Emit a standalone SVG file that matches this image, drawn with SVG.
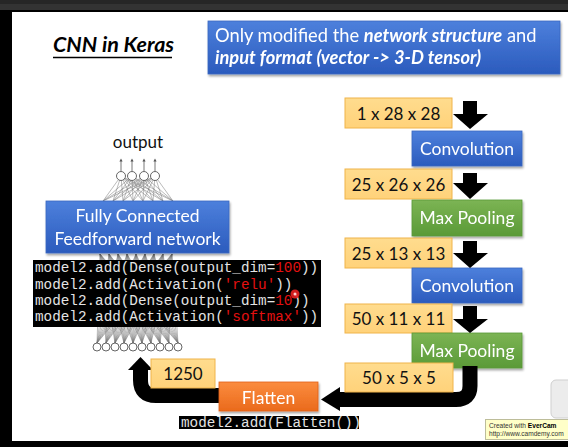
<svg xmlns="http://www.w3.org/2000/svg" width="568" height="447" viewBox="0 0 568 447">
<defs>
<linearGradient id="gBlue" x1="0" y1="0" x2="0" y2="1"><stop offset="0" stop-color="#4d80dc"/><stop offset="1" stop-color="#2b5bbd"/></linearGradient>
<linearGradient id="gGreen" x1="0" y1="0" x2="0" y2="1"><stop offset="0" stop-color="#7cb454"/><stop offset="1" stop-color="#5a9a37"/></linearGradient>
<linearGradient id="gOrange" x1="0" y1="0" x2="0" y2="1"><stop offset="0" stop-color="#fb8c3e"/><stop offset="1" stop-color="#ea6a1c"/></linearGradient>
<linearGradient id="gTan" x1="0" y1="0" x2="0" y2="1"><stop offset="0" stop-color="#ffdc8e"/><stop offset="1" stop-color="#ffd27a"/></linearGradient>
<filter id="sh" x="-10%" y="-10%" width="130%" height="140%"><feDropShadow dx="1" dy="2" stdDeviation="1.2" flood-color="#000" flood-opacity="0.35"/></filter>
<marker id="ah" viewBox="0 0 6 6" refX="3" refY="3" markerWidth="4" markerHeight="4" orient="auto"><path d="M0,0 L6,3 L0,6 z" fill="#555"/></marker>
</defs>
<style>
.t{font-family:Lato,"Liberation Sans",sans-serif}
.w{fill:#fff}
.box{filter:url(#sh)}
.tan{fill:url(#gTan);stroke:#f0b44a;stroke-width:1}
.lbl{font-family:Lato,"Liberation Sans",sans-serif;font-size:17px;fill:#111;text-anchor:middle}
.node{font-family:Lato,"Liberation Sans",sans-serif;font-size:17.5px;fill:#fff;text-anchor:middle}
.code{font-family:"Liberation Mono",monospace;font-size:14.3px;fill:#e4e4e4}
.red{fill:#e41010}
.nn{stroke:#777;stroke-width:0.5;fill:none}
.cir{fill:#fff;stroke:#555;stroke-width:0.9}
.arr{fill:#000}
.tip{font-family:"Liberation Sans",sans-serif;font-size:6.6px;fill:#333}
</style>
<!-- screen frame -->
<rect x="0" y="0" width="568" height="447" fill="#fff"/>
<rect x="0" y="0" width="568" height="4" fill="#262626"/>
<rect x="0" y="4" width="568" height="6" fill="#333"/>
<rect x="0" y="10" width="568" height="2" fill="#000"/>
<rect x="0" y="10" width="12" height="437" fill="#000"/>
<rect x="0" y="441" width="568" height="6" fill="#000"/>

<!-- title -->
<g id="title">
<text x="53" y="52" class="t" font-size="21.5" font-weight="bold" font-style="italic" fill="#000">CNN in Keras</text>
<line x1="53" y1="57.5" x2="172" y2="57.5" stroke="#000" stroke-width="1.5"/>
</g>

<g id="note" class="box">
<rect x="208" y="21" width="352" height="53" fill="url(#gBlue)" stroke="#3a66c0" stroke-width="0.8"/>
<text x="215" y="42" class="t w" font-size="18.3">Only modified the <tspan font-weight="bold" font-style="italic">network structure</tspan> and</text>
<text x="215" y="64" class="t w" font-size="18.3" font-weight="bold" font-style="italic">input format (vector -&gt; 3-D tensor)</text>
</g>

<!-- neural network drawing -->
<g id="nn-top">
<g class="nn">
<path d="M121,176 L103,201 M121,176 L113,201 M121,176 L123,201 M121,176 L133,201 M121,176 L143,201 M121,176 L153,201 M121,176 L163,201 M121,176 L173,201"/>
<path d="M132,176 L103,201 M132,176 L113,201 M132,176 L123,201 M132,176 L133,201 M132,176 L143,201 M132,176 L153,201 M132,176 L163,201 M132,176 L173,201"/>
<path d="M144,176 L103,201 M144,176 L113,201 M144,176 L123,201 M144,176 L133,201 M144,176 L143,201 M144,176 L153,201 M144,176 L163,201 M144,176 L173,201"/>
<path d="M155,176 L103,201 M155,176 L113,201 M155,176 L123,201 M155,176 L133,201 M155,176 L143,201 M155,176 L153,201 M155,176 L163,201 M155,176 L173,201"/>
</g>
<g stroke="#555" stroke-width="0.8">
<line x1="121" y1="171" x2="121" y2="160" marker-end="url(#ah)"/>
<line x1="132" y1="171" x2="132" y2="160" marker-end="url(#ah)"/>
<line x1="144" y1="171" x2="144" y2="160" marker-end="url(#ah)"/>
<line x1="155" y1="171" x2="155" y2="160" marker-end="url(#ah)"/>
</g>
<circle cx="121" cy="176" r="4.5" class="cir"/>
<circle cx="132" cy="176" r="4.5" class="cir"/>
<circle cx="144" cy="176" r="4.5" class="cir"/>
<circle cx="155" cy="176" r="4.5" class="cir"/>
<text x="138" y="148" class="lbl">output</text>
</g>

<g id="nn-bottom">
<g class="nn">
<path d="M100,254 L97,343 M100,254 L106,343 M100,254 L115,343 M100,254 L124,343 M100,254 L133,343 M100,254 L142,343 M100,254 L151,343 M100,254 L160,343 M100,254 L169,343 M100,254 L178,343"/>
<path d="M109,254 L97,343 M109,254 L106,343 M109,254 L115,343 M109,254 L124,343 M109,254 L133,343 M109,254 L142,343 M109,254 L151,343 M109,254 L160,343 M109,254 L169,343 M109,254 L178,343"/>
<path d="M118,254 L97,343 M118,254 L106,343 M118,254 L115,343 M118,254 L124,343 M118,254 L133,343 M118,254 L142,343 M118,254 L151,343 M118,254 L160,343 M118,254 L169,343 M118,254 L178,343"/>
<path d="M127,254 L97,343 M127,254 L106,343 M127,254 L115,343 M127,254 L124,343 M127,254 L133,343 M127,254 L142,343 M127,254 L151,343 M127,254 L160,343 M127,254 L169,343 M127,254 L178,343"/>
<path d="M136,254 L97,343 M136,254 L106,343 M136,254 L115,343 M136,254 L124,343 M136,254 L133,343 M136,254 L142,343 M136,254 L151,343 M136,254 L160,343 M136,254 L169,343 M136,254 L178,343"/>
<path d="M145,254 L97,343 M145,254 L106,343 M145,254 L115,343 M145,254 L124,343 M145,254 L133,343 M145,254 L142,343 M145,254 L151,343 M145,254 L160,343 M145,254 L169,343 M145,254 L178,343"/>
<path d="M154,254 L97,343 M154,254 L106,343 M154,254 L115,343 M154,254 L124,343 M154,254 L133,343 M154,254 L142,343 M154,254 L151,343 M154,254 L160,343 M154,254 L169,343 M154,254 L178,343"/>
<path d="M163,254 L97,343 M163,254 L106,343 M163,254 L115,343 M163,254 L124,343 M163,254 L133,343 M163,254 L142,343 M163,254 L151,343 M163,254 L160,343 M163,254 L169,343 M163,254 L178,343"/>
<path d="M172,254 L97,343 M172,254 L106,343 M172,254 L115,343 M172,254 L124,343 M172,254 L133,343 M172,254 L142,343 M172,254 L151,343 M172,254 L160,343 M172,254 L169,343 M172,254 L178,343"/>
</g>
<circle cx="97" cy="347" r="4" class="cir"/>
<circle cx="106" cy="347" r="4" class="cir"/>
<circle cx="115" cy="347" r="4" class="cir"/>
<circle cx="124" cy="347" r="4" class="cir"/>
<circle cx="133" cy="347" r="4" class="cir"/>
<circle cx="142" cy="347" r="4" class="cir"/>
<circle cx="151" cy="347" r="4" class="cir"/>
<circle cx="160" cy="347" r="4" class="cir"/>
<circle cx="169" cy="347" r="4" class="cir"/>
<circle cx="178" cy="347" r="4" class="cir"/>
</g>

<g id="fc" class="box">
<rect x="46" y="201" width="183" height="52" fill="url(#gBlue)" stroke="#3a66c0" stroke-width="0.8"/>
<text x="137.5" y="222" class="node" font-size="18">Fully Connected</text>
<text x="137.5" y="245" class="node" font-size="18">Feedforward network</text>
</g>

<g id="code-dense">
<rect x="33" y="260" width="288" height="67" fill="#000"/>
<text x="35" y="272" class="code">model2.add(Dense(output_dim=<tspan class="red">100</tspan>))</text>
<text x="35" y="288.5" class="code">model2.add(Activation(<tspan class="red">'relu'</tspan>))</text>
<text x="35" y="305" class="code">model2.add(Dense(output_dim=<tspan class="red">10</tspan>))</text>
<text x="35" y="321" class="code">model2.add(Activation(<tspan class="red">'softmax'</tspan>))</text>
<circle cx="295" cy="294" r="4.5" fill="#e82020" opacity="0.9"/>
<circle cx="295" cy="294" r="1.5" fill="#ffd0d0"/>
</g>

<!-- right column -->
<g id="s1"><rect x="345" y="98" width="107" height="30" class="tan"/><text x="398.5" y="120" class="lbl">1 x 28 x 28</text></g>
<g id="conv1" class="box"><rect x="412" y="131" width="110" height="35" fill="url(#gBlue)" stroke="#3a66c0" stroke-width="0.8"/><text x="467" y="155" class="node">Convolution</text></g>
<g id="s2"><rect x="345" y="169" width="107" height="30" class="tan"/><text x="398.5" y="191" class="lbl">25 x 26 x 26</text></g>
<g id="pool1" class="box"><rect x="412" y="200" width="110" height="36" fill="url(#gGreen)" stroke="#5a9a37" stroke-width="0.8"/><text x="467" y="224" class="node">Max Pooling</text></g>
<g id="s3"><rect x="345" y="238" width="107" height="30" class="tan"/><text x="398.5" y="260" class="lbl">25 x 13 x 13</text></g>
<g id="conv2" class="box"><rect x="412" y="268" width="110" height="35" fill="url(#gBlue)" stroke="#3a66c0" stroke-width="0.8"/><text x="467" y="292" class="node">Convolution</text></g>
<g id="s4"><rect x="345" y="304" width="107" height="29" class="tan"/><text x="398.5" y="325" class="lbl">50 x 11 x 11</text></g>
<g id="pool2" class="box"><rect x="412" y="333" width="110" height="35" fill="url(#gGreen)" stroke="#5a9a37" stroke-width="0.8"/><text x="467" y="357" class="node">Max Pooling</text></g>

<g id="connectors">
<polygon class="arr" points="463,101 477,101 477,114 488,114 470,129 453,114 463,114"/>
<polygon class="arr" points="463,173 477,173 477,183 488,183 470,199 453,183 463,183"/>
<polygon class="arr" points="463,241 477,241 477,253 488,253 470,268 453,253 463,253"/>
<polygon class="arr" points="463,306 477,306 477,319 488,319 470,333 453,319 463,319"/>
<path d="M470,366 V386 Q470,399.5 456,399.5 H338" fill="none" stroke="#000" stroke-width="15"/>
<polygon class="arr" points="340,387 340,411 321,399.5"/>
<path d="M222,395.5 H156 Q140.5,395.5 140.5,380 V369" fill="none" stroke="#000" stroke-width="15"/>
<polygon class="arr" points="128,370 153,370 140.5,357"/>
</g>

<g id="s5"><rect x="345" y="363" width="108" height="29" class="tan"/><text x="399" y="384" class="lbl">50 x 5 x 5</text></g>
<g id="s6"><rect x="151" y="359" width="64" height="29" class="tan"/><text x="183" y="380" class="lbl">1250</text></g>
<g id="flatten" class="box"><rect x="219" y="382" width="99" height="29" fill="url(#gOrange)" stroke="#e06018" stroke-width="0.8"/><text x="268.5" y="404" class="node">Flatten</text></g>
<g id="code-flatten">
<rect x="179" y="416" width="180" height="13" fill="#000"/>
<text x="181" y="427" class="code" font-size="13.9">model2.add(Flatten())</text>
</g>

<!-- overlays -->
<rect x="551" y="380" width="22" height="38" rx="5" fill="#ececec" stroke="#cfcfcf"/>
<g id="tooltip">
<rect x="485.5" y="419.5" width="90" height="20" fill="#ffffc8" stroke="#bdbd9a"/>
<text x="489" y="427.5" class="tip">Created with <tspan font-weight="bold" fill="#000">EverCam</tspan></text>
<text x="489" y="435.5" class="tip">http://www.camdemy.com</text>
</g>
</svg>
